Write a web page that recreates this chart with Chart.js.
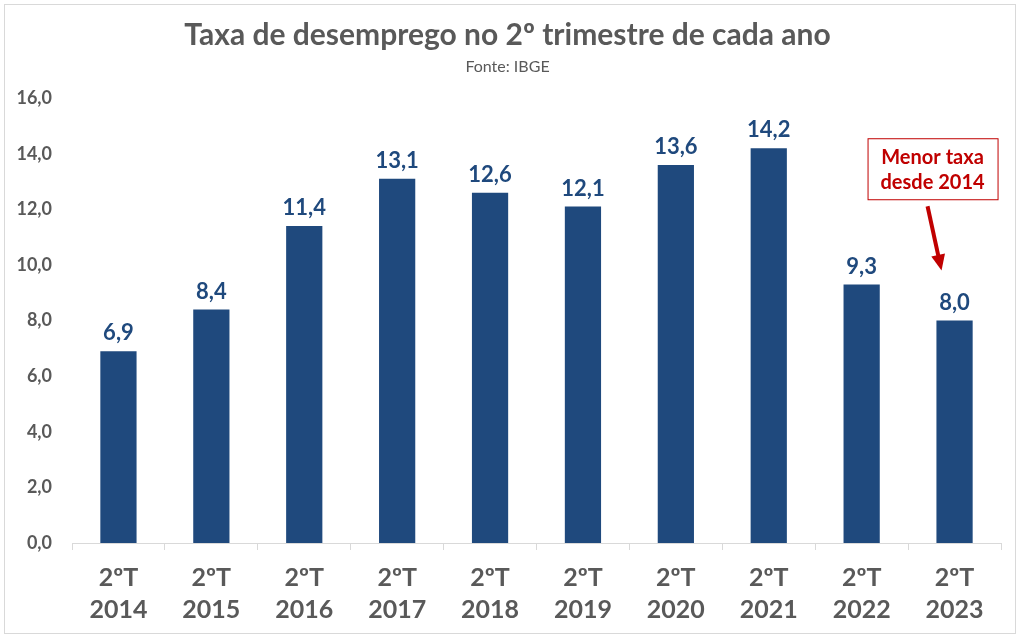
<!DOCTYPE html>
<html lang="pt-BR">
<head>
<meta charset="utf-8">
<script src="https://cdn.jsdelivr.net/npm/chart.js@4"></script>
<style>
  html, body { margin: 0; padding: 0; background: #fff; }
  #frame { position: absolute; left: 4px; top: 4px; width: 1012px; height: 630px; border: 1px solid #d9d9d9; box-sizing: border-box; }
  #wrap { position: absolute; left: 0; top: 0; width: 1023px; height: 641px; }
</style>
</head>
<body>
<div id="frame"></div>
<div id="wrap"><canvas id="taxaChart"></canvas></div>
<script>
// Dados (IBGE) - taxa de desemprego no 2º trimestre
const trimestres = ['2ºT', '2ºT', '2ºT', '2ºT', '2ºT', '2ºT', '2ºT', '2ºT', '2ºT', '2ºT'];
const anos = ['2014', '2015', '2016', '2017', '2018', '2019', '2020', '2021', '2022', '2023'];
const taxas = [6.9, 8.4, 11.4, 13.1, 12.6, 12.1, 13.6, 14.2, 9.3, 8.0];
const yTicks = [0, 2, 4, 6, 8, 10, 12, 14, 16];
const notaTexto = ['Menor taxa', 'desde 2014'];

const FONTE = 'Lato, "Open Sans", sans-serif';
const AZUL = '#1f497d';
const CINZA = '#595959';
const VERMELHO = '#c00000';

const fmt = v => v.toFixed(1).replace('.', ',');

// rótulos de valor acima das barras
const rotulosPlugin = {
    id: 'rotulos',
    afterDatasetsDraw(chart) {
        const ctx = chart.ctx;
        const meta = chart.getDatasetMeta(0);
        ctx.save();
        ctx.font = 'bold 22px ' + FONTE;
        ctx.fillStyle = AZUL;
        ctx.textAlign = 'center';
        ctx.textBaseline = 'bottom';
        meta.data.forEach((bar, i) => {
            ctx.fillText(fmt(taxas[i]), bar.x, bar.y - 7);
        });
        ctx.restore();
    }
};

// caixa "Menor taxa desde 2014" + seta apontando para o último valor
const notaPlugin = {
    id: 'nota',
    afterDraw(chart) {
        const ctx = chart.ctx;
        const meta = chart.getDatasetMeta(0);
        const ult = meta.data[meta.data.length - 1];
        const cx = ult.x - 22;
        const topo = chart.scales.y.getPixelForValue(14.2) - 10;
        const w = 130, h = 61;
        ctx.save();
        ctx.fillStyle = '#fff';
        ctx.fillRect(cx - w / 2, topo, w, h);
        ctx.strokeStyle = VERMELHO;
        ctx.lineWidth = 1;
        ctx.strokeRect(cx - w / 2 + 0.5, topo + 0.5, w, h);
        ctx.font = 'bold 20px ' + FONTE;
        ctx.fillStyle = VERMELHO;
        ctx.textAlign = 'center';
        ctx.textBaseline = 'middle';
        ctx.fillText(notaTexto[0], cx, topo + 19);
        ctx.fillText(notaTexto[1], cx, topo + 44);

        // seta
        const x0 = cx - 5, y0 = topo + h + 7;
        const x1 = ult.x - 13, y1 = ult.y - 50;
        const ang = Math.atan2(y1 - y0, x1 - x0);
        const cab = 16;
        ctx.strokeStyle = VERMELHO;
        ctx.lineWidth = 4;
        ctx.beginPath();
        ctx.moveTo(x0, y0);
        ctx.lineTo(x1 - Math.cos(ang) * cab * 0.8, y1 - Math.sin(ang) * cab * 0.8);
        ctx.stroke();
        ctx.fillStyle = VERMELHO;
        ctx.beginPath();
        ctx.moveTo(x1, y1);
        ctx.lineTo(x1 - cab * Math.cos(ang) + 7 * Math.sin(ang), y1 - cab * Math.sin(ang) - 7 * Math.cos(ang));
        ctx.lineTo(x1 - cab * Math.cos(ang) - 7 * Math.sin(ang), y1 - cab * Math.sin(ang) + 7 * Math.cos(ang));
        ctx.closePath();
        ctx.fill();
        ctx.restore();
    }
};

const labels = anos.map((a, i) => [trimestres[i], a]);

new Chart(document.getElementById('taxaChart').getContext('2d'), {
    type: 'bar',
    data: {
        labels: labels,
        datasets: [{
            data: taxas,
            backgroundColor: AZUL,
            borderWidth: 0,
            categoryPercentage: 1.0,
            barPercentage: 0.39
        }]
    },
    options: {
        responsive: true,
        maintainAspectRatio: false,
        animation: false,
        layout: { padding: { left: 14, right: 22, top: 17, bottom: 3 } },
        plugins: {
            legend: { display: false },
            tooltip: { enabled: false },
            title: {
                display: true,
                text: 'Taxa de desemprego no 2º trimestre de cada ano',
                color: CINZA,
                font: { family: FONTE, size: 30, weight: 'bold' },
                padding: { top: 0, bottom: 4 }
            },
            subtitle: {
                display: true,
                text: 'Fonte: IBGE',
                color: CINZA,
                font: { family: FONTE, size: 16 },
                padding: { top: 0, bottom: 22 }
            }
        },
        scales: {
            x: {
                grid: {
                    display: true,
                    drawOnChartArea: false,
                    drawTicks: true,
                    tickLength: 7,
                    color: '#d9d9d9',
                    offset: true
                },
                border: { display: true, color: '#d9d9d9' },
                ticks: {
                    color: CINZA,
                    font: { family: FONTE, size: 25, weight: 'bold', lineHeight: 1.28 },
                    padding: 12,
                    maxRotation: 0
                }
            },
            y: {
                min: 0,
                max: 16,
                afterBuildTicks: axis => { axis.ticks = yTicks.map(v => ({ value: v })); },
                afterFit: axis => { axis.width = 58; },
                grid: { display: false, drawTicks: false },
                border: { display: false },
                ticks: {
                    color: CINZA,
                    font: { family: FONTE, size: 18, weight: 'bold' },
                    padding: 20,
                    callback: v => fmt(v)
                }
            }
        }
    },
    plugins: [rotulosPlugin, notaPlugin]
});
</script>
</body>
</html>
